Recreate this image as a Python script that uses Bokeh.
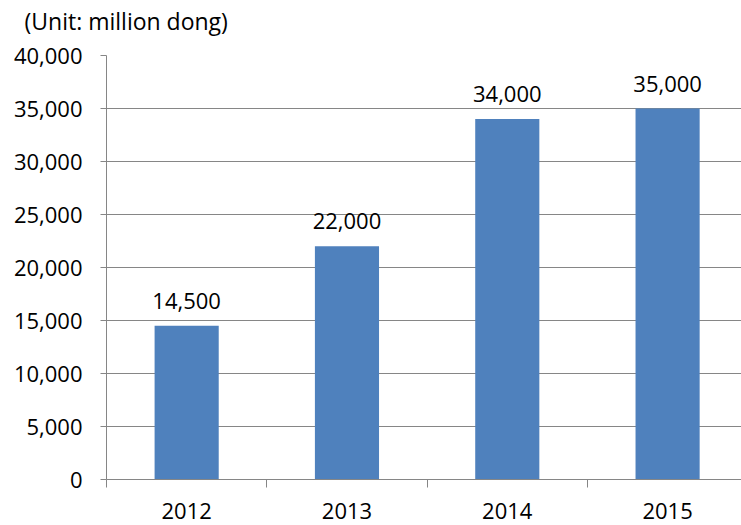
from bokeh.plotting import figure
from bokeh.models import Range1d, FixedTicker, NumeralTickFormatter, CustomJSTickFormatter, ColumnDataSource, Title
from bokeh.core.properties import value
from bokeh.embed import file_html
from bokeh.resources import INLINE

years = ["2012", "2013", "2014", "2015"]
amounts = [14500, 22000, 34000, 35000]
y_ticks = [0, 5000, 10000, 15000, 20000, 25000, 30000, 35000, 40000]
unit_title = "(Unit: million dong)"

FONT = "Open Sans"
GRID = "#868686"
BAR = "#4F81BD"
FS = "22px"

centers = [i + 0.5 for i in range(len(years))]
bounds = [i for i in range(len(years) + 1)]
labels = [f"{v:,}" for v in amounts]

src = ColumnDataSource(dict(x=centers, top=amounts, label=labels))

p = figure(width=741, height=525, output_backend="svg", toolbar_location=None,
           x_range=Range1d(0, 3.961), y_range=Range1d(0, 40000),
           min_border_left=106, min_border_right=0, min_border_top=55, min_border_bottom=46)
p.outline_line_color = None
p.background_fill_color = "white"
p.border_fill_color = "white"

# spacer between the frame and the unit title
p.add_layout(Title(text=" ", text_font_size="1px", standoff=16), "above")
p.add_layout(Title(text=unit_title, text_font=FONT, text_font_size="23px",
                   text_font_style="normal", text_color="black", align="left",
                   offset=-82, standoff=0), "above")

p.vbar(x="x", top="top", width=0.4, source=src, color=BAR, line_color=None)
p.text(x="x", y="top", text="label", source=src, text_align="center",
       text_baseline="alphabetic", y_offset=-25, text_font=value(FONT),
       text_font_size=FS, text_color="black")

# y axis
ya = p.yaxis[0]
ya.ticker = FixedTicker(ticks=y_ticks)
ya.formatter = NumeralTickFormatter(format="0,0")
ya.axis_line_color = GRID
ya.major_tick_line_color = GRID
ya.major_tick_out = 6
ya.major_tick_in = 0
ya.minor_tick_line_color = None
ya.major_label_standoff = 18
ya.major_label_text_font = FONT
ya.major_label_text_font_size = FS
ya.major_label_text_color = "black"

# x axis
xa = p.xaxis[0]
xa.ticker = FixedTicker(ticks=centers, minor_ticks=bounds)
xa.formatter = CustomJSTickFormatter(args=dict(years=years),
                                     code="return years[Math.floor(tick)];")
xa.axis_line_color = GRID
xa.major_tick_line_color = None
xa.major_tick_out = 0
xa.major_tick_in = 0
xa.minor_tick_line_color = GRID
xa.minor_tick_out = 8
xa.minor_tick_in = 0
xa.major_label_standoff = 15
xa.major_label_text_font = FONT
xa.major_label_text_font_size = FS
xa.major_label_text_color = "black"

p.xgrid.grid_line_color = None
p.ygrid.ticker = FixedTicker(ticks=y_ticks)
p.ygrid.grid_line_color = GRID
p.ygrid.grid_line_width = 1

open("out.html", "w").write(file_html(p, INLINE))
